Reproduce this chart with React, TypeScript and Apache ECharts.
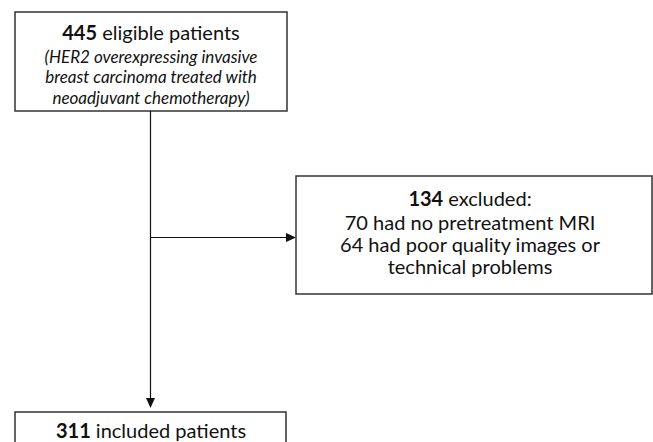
import React, { useEffect, useRef } from "react";
import * as echarts from "echarts";

// Flowchart content
const topBold = "445";
const topTitle = " eligible patients";
const topItalicLines = [
  "(HER2 overexpressing invasive",
  "breast carcinoma treated with",
  "neoadjuvant chemotherapy)",
];
const exclBold = "134";
const exclTitle = " excluded:";
const exclLines = [
  "70 had no pretreatment MRI",
  "64 had poor quality images or",
  "technical problems",
];
const bottomBold = "311";
const bottomTitle = " included patients";

const FONT = "Lato, 'Open Sans', sans-serif";
const STROKE = "#333";
const FS = 20;

export default function App() {
  const ref = useRef<HTMLDivElement>(null);
  useEffect(() => {
    if (!ref.current) return;
    const chart = echarts.init(ref.current, null, { renderer: "svg" });
    const boxStyle = { fill: "#fff", stroke: STROKE, lineWidth: 1.5 };
    const lineStyle = { stroke: "#111", lineWidth: 1.2 };
    const mkText = (x: number, y: number, text: string, extra: any = {}) => ({
      type: "text",
      x,
      y,
      style: {
        text,
        fill: "#111",
        fontFamily: FONT,
        fontSize: FS,
        align: "center",
        verticalAlign: "middle",
        ...extra,
      },
    });
    const titleRich = {
      b: { fontWeight: "bold", fontSize: FS, fontFamily: FONT, fill: "#111" },
      n: { fontSize: FS, fontFamily: FONT, fill: "#111" },
    };
    const graphic: any[] = [
      // top box
      { type: "rect", shape: { x: 15, y: 12, width: 272, height: 99 }, style: boxStyle },
      {
        type: "text",
        x: 151,
        y: 32,
        style: {
          text: `{b|${topBold}}{n|${topTitle}}`,
          rich: titleRich,
          align: "center",
          verticalAlign: "middle",
        },
      },
      ...topItalicLines.map((t, i) =>
        mkText(151, 56 + i * 20.5, t, { fontStyle: "italic", fontSize: 17 })
      ),
      // vertical line
      { type: "line", shape: { x1: 150.5, y1: 111, x2: 150.5, y2: 400 }, style: lineStyle },
      { type: "polygon", shape: { points: [[146, 398], [155, 398], [150.5, 408]] }, style: { fill: "#111" } },
      // horizontal line
      { type: "line", shape: { x1: 150.5, y1: 237.5, x2: 288, y2: 237.5 }, style: lineStyle },
      { type: "polygon", shape: { points: [[286, 233], [286, 242], [296, 237.5]] }, style: { fill: "#111" } },
      // right box
      { type: "rect", shape: { x: 296, y: 176, width: 356, height: 118 }, style: boxStyle },
      {
        type: "text",
        x: 470,
        y: 198,
        style: {
          text: `{b|${exclBold}}{n|${exclTitle}}`,
          rich: titleRich,
          align: "center",
          verticalAlign: "middle",
        },
      },
      ...exclLines.map((t, i) => mkText(470, 222 + i * 22, t)),
      // bottom box
      { type: "rect", shape: { x: 15, y: 412, width: 271, height: 60 }, style: boxStyle },
      {
        type: "text",
        x: 151,
        y: 430,
        style: {
          text: `{b|${bottomBold}}{n|${bottomTitle}}`,
          rich: titleRich,
          align: "center",
          verticalAlign: "middle",
        },
      },
    ];
    chart.setOption({ animation: false, backgroundColor: "#fff", graphic });
    return () => chart.dispose();
  }, []);
  return <div ref={ref} style={{ width: 653, height: 442, position: "absolute", left: 0, top: 0 }} />;
}
